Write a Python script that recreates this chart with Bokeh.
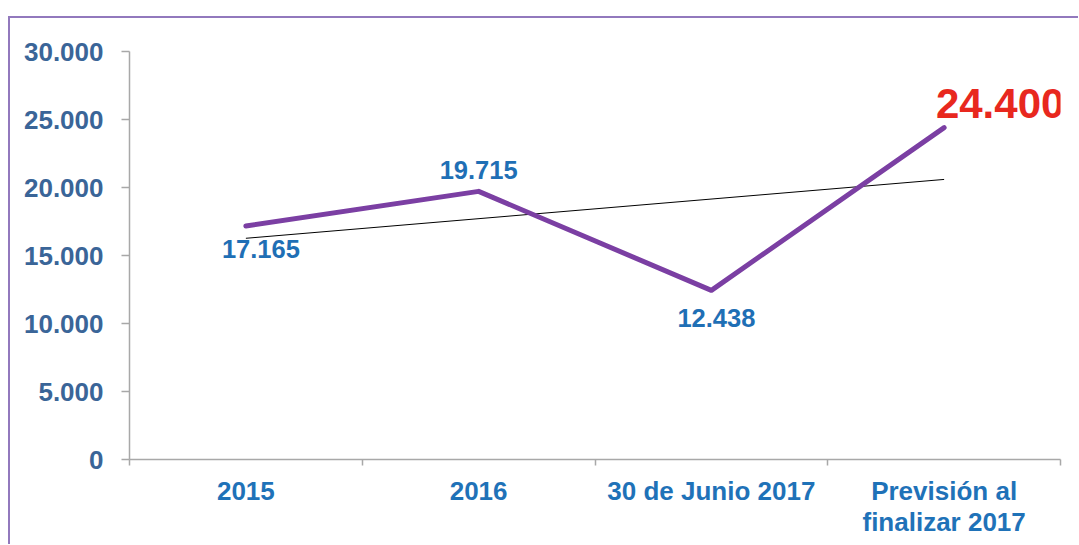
import numpy as np
from bokeh.plotting import figure
from bokeh.models import Range1d, FixedTicker, LinearAxis, ColumnDataSource, Div, Spacer
from bokeh.layouts import column, row
from bokeh.core.properties import value
from bokeh.embed import file_html
from bokeh.resources import INLINE

categories = ["2015", "2016", "30 de Junio 2017", "Previsión al\nfinalizar 2017"]
values = [17165, 19715, 12438, 24400]
y_ticks = [0, 5000, 10000, 15000, 20000, 25000, 30000]
y_tick_labels = ["0", "5.000", "10.000", "15.000", "20.000", "25.000", "30.000"]

FONT = "Liberation Sans"
BORDER = "#9279bd"
AXIS = "#a8a8a8"
pos = [i + 0.5 for i in range(len(categories))]

p = figure(frame_width=931, frame_height=408, output_backend="svg", toolbar_location=None,
           x_range=Range1d(0, len(categories)), y_range=Range1d(0, 30000),
           min_border_left=119, min_border_right=11, min_border_top=33, min_border_bottom=0,
           outline_line_color=None, background_fill_color="white", border_fill_color="white")
p.grid.visible = False

# y axis
ya = p.yaxis[0]
ya.ticker = FixedTicker(ticks=y_ticks)
ya.major_label_overrides = {t: l for t, l in zip(y_ticks, y_tick_labels)}
ya.major_label_text_font = FONT
ya.major_label_text_font_style = "bold"
ya.major_label_text_font_size = "26px"
ya.major_label_text_color = "#3a6598"
ya.major_tick_out = 8
ya.major_tick_in = 0
ya.minor_tick_line_color = None
ya.axis_line_color = AXIS
ya.axis_line_width = 1.5
ya.major_tick_line_color = AXIS
ya.major_tick_line_width = 1.5
ya.major_label_standoff = 18

# x axis (boundary ticks)
xa = p.xaxis[0]
bounds = list(range(len(categories) + 1))
xa.ticker = FixedTicker(ticks=bounds)
xa.major_label_overrides = {b: "" for b in bounds}
xa.major_label_text_font_size = "1px"
xa.major_tick_out = 6
xa.major_tick_in = 0
xa.minor_tick_line_color = None
xa.axis_line_color = AXIS
xa.axis_line_width = 1.5
xa.major_tick_line_color = AXIS
xa.major_tick_line_width = 1.5
xa.major_label_standoff = 0

# category label axes (one per text line)
lines = [c.split("\n") for c in categories]
first = {x: l[0] for x, l in zip(pos, lines)}
second = {x: l[1] for x, l in zip(pos, lines) if len(l) > 1}


def label_axis(overrides, standoff):
    ax = LinearAxis(ticker=FixedTicker(ticks=list(overrides.keys())),
                    major_label_overrides=overrides)
    ax.axis_line_color = None
    ax.major_tick_line_color = None
    ax.minor_tick_line_color = None
    ax.major_label_text_font = FONT
    ax.major_label_text_font_style = "bold"
    ax.major_label_text_font_size = "26px"
    ax.major_label_text_color = "#1f72b8"
    ax.major_label_standoff = standoff
    return ax


p.add_layout(label_axis(first, 4), "below")
p.add_layout(label_axis(second, -8), "below")

# trend line (linear least-squares fit of the series)
slope, intercept = np.polyfit(np.arange(len(values)), np.array(values, dtype=float), 1)
trend = [intercept + slope * i for i in range(len(values))]
p.line([pos[0], pos[-1]], [trend[0], trend[-1]], line_color="black", line_width=1)

# main line
p.line(pos, values, line_color="#7b3fa3", line_width=5, line_join="round", line_cap="round")

# labels
labels = [f"{v:,}".replace(",", ".") for v in values]
src = ColumnDataSource(dict(x=pos[:3], y=values[:3], t=labels[:3],
                            xo=[15, 0, 5], yo=[23, -21, 28]))
p.text(x="x", y="y", text="t", source=src, x_offset="xo", y_offset="yo",
       text_font=value(FONT), text_font_style="bold", text_font_size="25.5px",
       text_color="#1f6fb5", text_align="center", text_baseline="middle")
p.text(x=[pos[3]], y=[values[3]], text=[labels[3]], x_offset=[56], y_offset=[-24],
       text_font=value(FONT), text_font_style="bold", text_font_size="42px",
       text_color="#e8281e", text_align="center", text_baseline="middle")

top_line = Div(text="", width=1070, height=2, margin=0,
               styles={"background-color": BORDER})
left_line = Div(text="", width=2, height=526, margin=0,
                styles={"background-color": BORDER})
layout = column(Spacer(width=10, height=16, margin=0),
                row(Spacer(width=8, height=10, margin=0),
                    column(top_line, row(left_line, p, spacing=0), spacing=0),
                    spacing=0),
                spacing=0)

open("out.html", "w").write(file_html(layout, INLINE))
